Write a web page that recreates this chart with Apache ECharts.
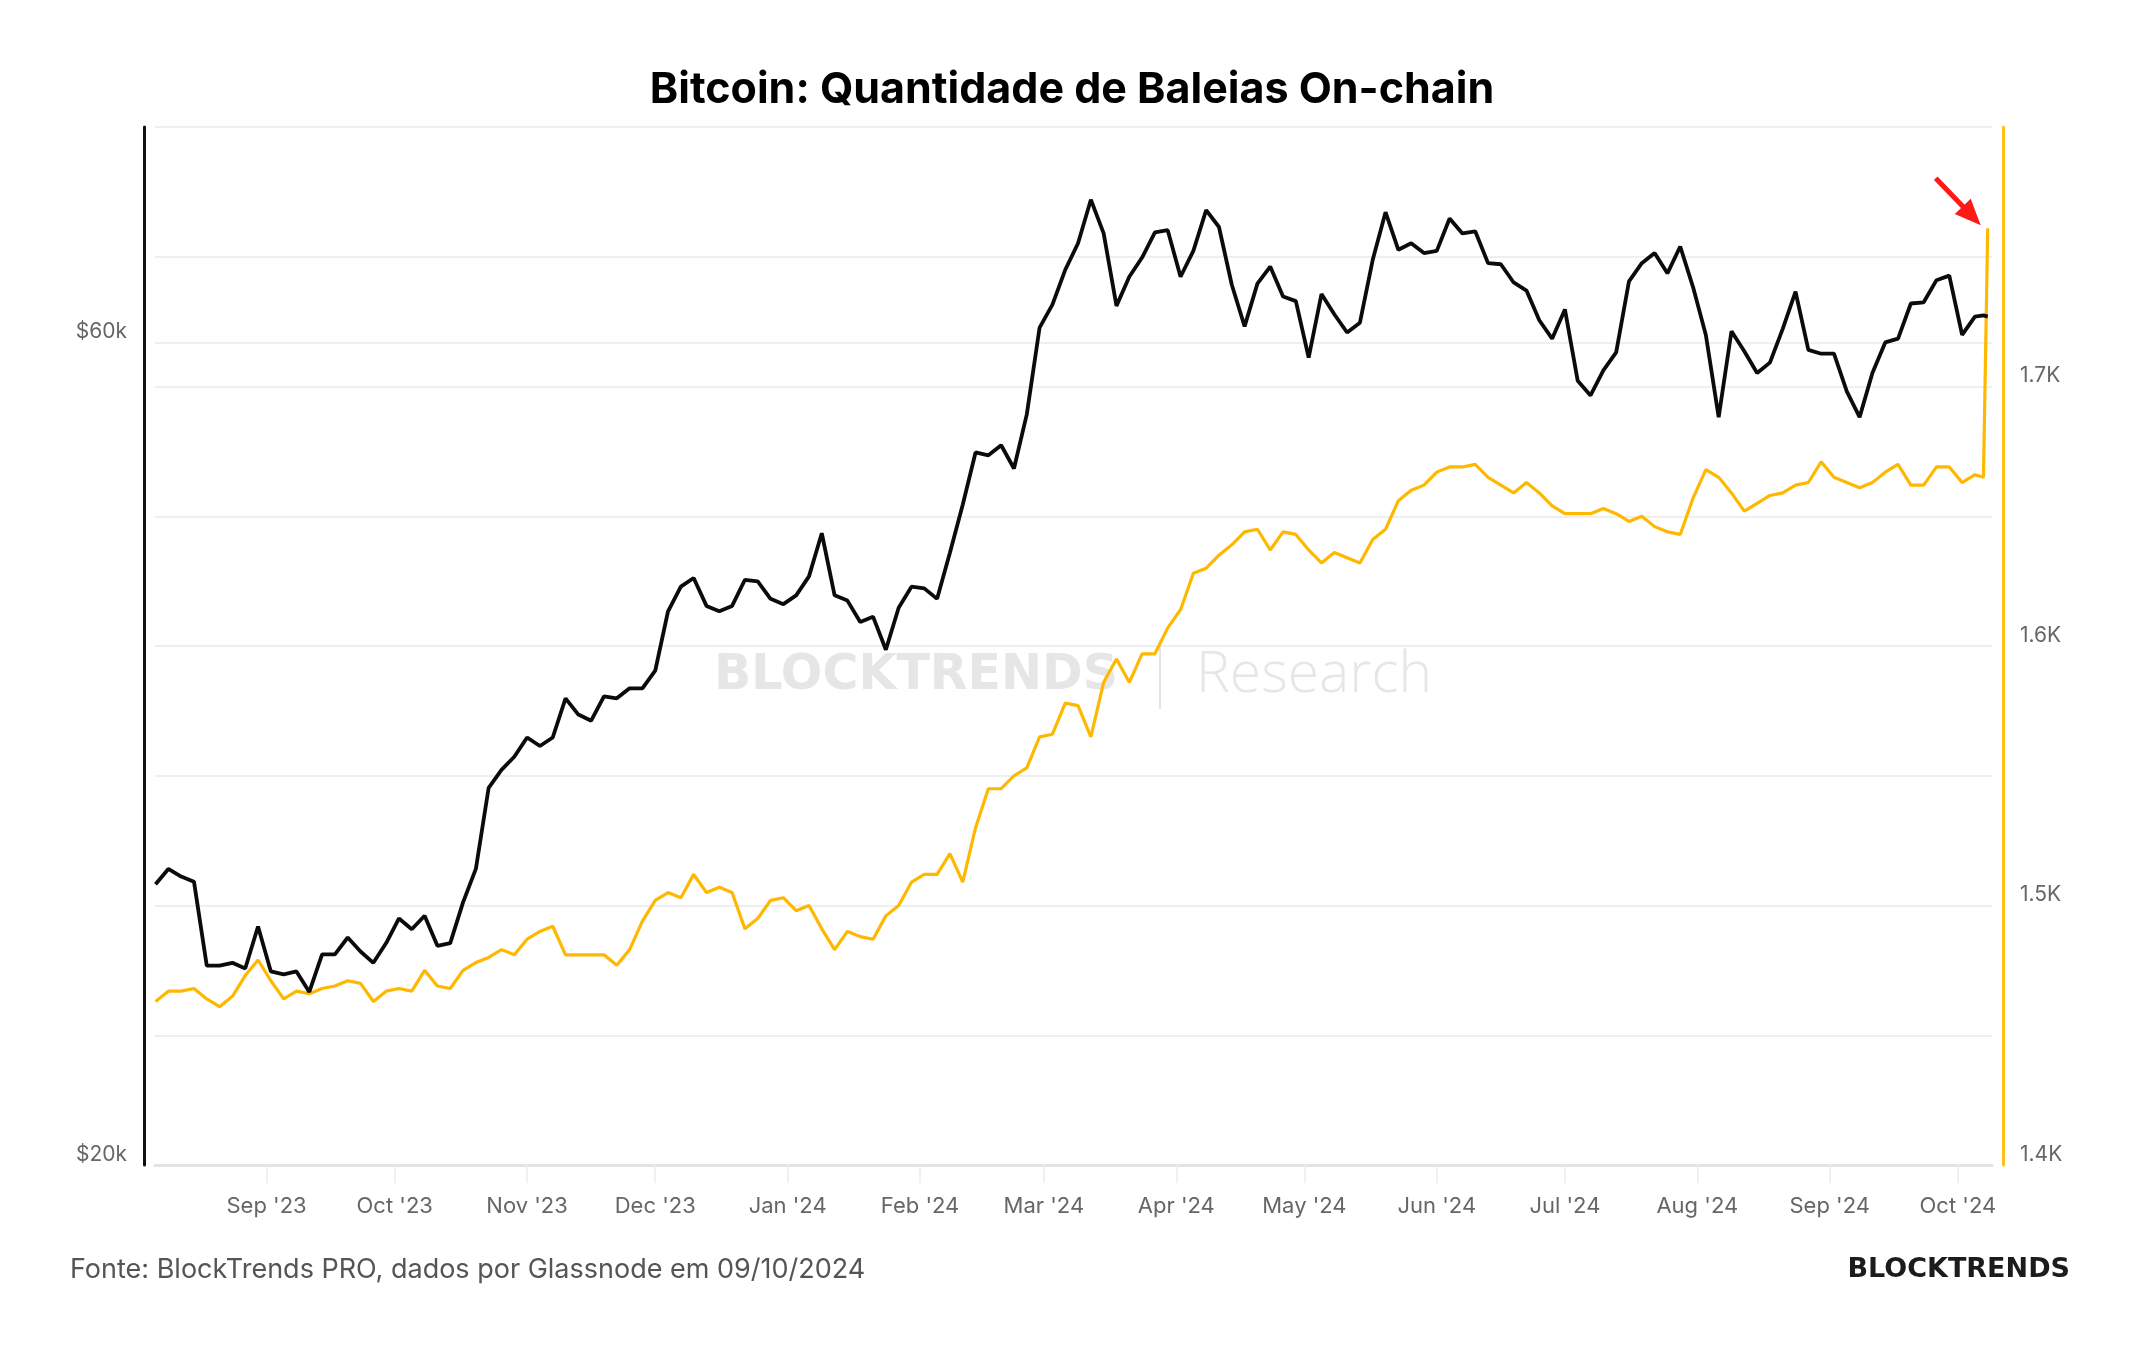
<!DOCTYPE html>
<html>
<head>
<meta charset="utf-8">
<title>Bitcoin: Quantidade de Baleias On-chain</title>
<script src="https://cdn.jsdelivr.net/npm/echarts@6/dist/echarts.min.js"></script>
<style>
  html, body { margin: 0; padding: 0; background: #fff; }
  #chart { width: 2144px; height: 1350px; }
</style>
</head>
<body>
<div id="chart"></div>
<script>
// sampled every 3 days from startDate, then the last two daily points
const startDate = '2023-08-06';
const stepDays = 3;

// BTC price, thousands of USD (left, log axis)
const btcPriceK = [
  29.1, 29.7, 29.4, 29.2, 26.1, 26.1, 26.2, 26.0, 27.5, 25.9,
  25.8, 25.9, 25.2, 26.5, 26.5, 27.1, 26.6, 26.2, 26.9, 27.8,
  27.4, 27.9, 26.8, 26.9, 28.4, 29.7, 33.1, 33.9, 34.5, 35.4,
  35.0, 35.4, 37.3, 36.5, 36.2, 37.4, 37.3, 37.8, 37.8, 38.7,
  41.9, 43.3, 43.8, 42.2, 41.9, 42.2, 43.7, 43.6, 42.6, 42.3,
  42.8, 43.9, 46.5, 42.8, 42.5, 41.3, 41.6, 39.8, 42.1, 43.3,
  43.2, 42.6, 45.3, 48.3, 51.8, 51.6, 52.3, 50.7, 54.5, 61.2,
  63.1, 66.1, 68.5, 72.6, 69.4, 63.0, 65.5, 67.2, 69.5, 69.7,
  65.5, 67.8, 71.6, 70.0, 64.8, 61.3, 64.9, 66.4, 63.8, 63.4,
  58.8, 64.0, 62.3, 60.8, 61.6, 67.0, 71.4, 67.9, 68.5, 67.6,
  67.8, 70.8, 69.4, 69.6, 66.7, 66.6, 65.0, 64.3, 61.8, 60.3,
  62.7, 57.0, 55.9, 57.8, 59.2, 65.1, 66.7, 67.6, 65.8, 68.2,
  64.6, 60.6, 54.3, 60.9, 59.3, 57.6, 58.4, 61.1, 64.2, 59.4,
  59.1, 59.1, 56.2, 54.3, 57.6, 60.0, 60.3, 63.2, 63.3, 65.2,
  65.6, 60.6, 62.1
];

// whale entities (right axis)
const whaleCount = [
  1463, 1467, 1467, 1468, 1464, 1461, 1465, 1473, 1479, 1471,
  1464, 1467, 1466, 1468, 1469, 1471, 1470, 1463, 1467, 1468,
  1467, 1475, 1469, 1468, 1475, 1478, 1480, 1483, 1481, 1487,
  1490, 1492, 1481, 1481, 1481, 1481, 1477, 1483, 1494, 1502,
  1505, 1503, 1512, 1505, 1507, 1505, 1491, 1495, 1502, 1503,
  1498, 1500, 1491, 1483, 1490, 1488, 1487, 1496, 1500, 1509,
  1512, 1512, 1520, 1509, 1530, 1545, 1545, 1550, 1553, 1565,
  1566, 1578, 1577, 1565, 1586, 1595, 1586, 1597, 1597, 1607,
  1614, 1628, 1630, 1635, 1639, 1644, 1645, 1637, 1644, 1643,
  1637, 1632, 1636, 1634, 1632, 1641, 1645, 1656, 1660, 1662,
  1667, 1669, 1669, 1670, 1665, 1662, 1659, 1663, 1659, 1654,
  1651, 1651, 1651, 1653, 1651, 1648, 1650, 1646, 1644, 1643,
  1657, 1668, 1665, 1659, 1652, 1655, 1658, 1659, 1662, 1663,
  1671, 1665, 1663, 1661, 1663, 1667, 1670, 1662, 1662, 1669,
  1669, 1663, 1666
];

const tailDates = ['2024-10-07', '2024-10-08'];
const tailPriceK = [62.2, 62.1];
const tailWhales = [1665, 1761];

const monthTicks = [
  '2023-09-01', '2023-10-01', '2023-11-01', '2023-12-01', '2024-01-01',
  '2024-02-01', '2024-03-01', '2024-04-01', '2024-05-01', '2024-06-01',
  '2024-07-01', '2024-08-01', '2024-09-01', '2024-10-01'
];
const monthNames = ['Jan', 'Feb', 'Mar', 'Apr', 'May', 'Jun', 'Jul', 'Aug', 'Sep', 'Oct', 'Nov', 'Dec'];
const priceLabels = [60, 20];

const DAY = 86400000;
const t0 = Date.parse(startDate);
const xMin = Date.UTC(2023, 7, 5, 21);
const xMax = Date.UTC(2024, 9, 9);
const monthTs = monthTicks.map(d => Date.parse(d));

function withDates(values, tail) {
  const pts = values.map((v, i) => [t0 + i * stepDays * DAY, v]);
  tailDates.forEach((d, i) => pts.push([Date.parse(d), tail[i]]));
  return pts;
}

const chart = echarts.init(document.getElementById('chart'));

chart.setOption({
  animation: false,
  backgroundColor: '#fff',
  title: {
    text: 'Bitcoin: Quantidade de Baleias On-chain',
    left: 'center',
    top: 64,
    textStyle: { fontFamily: 'Inter', fontWeight: 700, fontSize: 43, color: '#000' }
  },
  grid: { left: 155, right: 152, top: 127, bottom: 185 },
  // x is a timestamp (ms, UTC) on a plain value axis, ticks on month starts
  xAxis: {
    type: 'value',
    min: xMin,
    max: xMax,
    axisLine: { onZero: false, lineStyle: { color: '#e3e3e3', width: 3 } },
    axisTick: {
      show: true,
      customValues: monthTs,
      length: 18,
      lineStyle: { color: '#ebebeb', width: 1.5 }
    },
    axisLabel: {
      customValues: monthTs,
      formatter: function (v) {
        const d = new Date(v);
        return monthNames[d.getUTCMonth()] + " '" + String(d.getUTCFullYear()).slice(2);
      },
      color: '#666',
      fontFamily: 'Inter',
      fontSize: 22,
      margin: 30
    },
    splitLine: { show: false }
  },
  yAxis: [
    {
      type: 'log',
      min: 20,
      max: 80,
      position: 'left',
      offset: 11,
      axisLine: { show: true, onZero: false, lineStyle: { color: '#111', width: 3 } },
      axisTick: { show: false },
      axisLabel: { show: false },
      splitLine: { show: false }
    },
    {
      type: 'value',
      min: 1400,
      max: 1800,
      interval: 50,
      position: 'right',
      offset: 11,
      axisLine: { show: true, onZero: false, lineStyle: { color: '#ffc21a', width: 3 } },
      axisTick: { show: false },
      axisLabel: {
        formatter: v => (v % 100 === 0 && v < 1800 ? (v / 1000).toFixed(1) + 'K' : ''),
        color: '#666',
        fontFamily: 'Inter',
        fontSize: 21,
        margin: 17,
        verticalAlign: 'bottom'
      },
      splitLine: { show: true, lineStyle: { color: '#efefef', width: 2 } }
    }
  ],
  series: [
    {
      name: 'Baleias',
      type: 'line',
      yAxisIndex: 1,
      data: withDates(whaleCount, tailWhales),
      showSymbol: false,
      z: 3,
      lineStyle: { color: '#ffb800', width: 3.2 },
      itemStyle: { color: '#ffb800' }
    },
    {
      name: 'Preço BTC',
      type: 'line',
      yAxisIndex: 0,
      data: withDates(btcPriceK, tailPriceK),
      showSymbol: false,
      z: 4,
      lineStyle: { color: '#0b0b0b', width: 3.8 },
      itemStyle: { color: '#0b0b0b' },
      markLine: {
        silent: true,
        symbol: 'none',
        z: 1,
        lineStyle: { type: 'solid' },
        label: {
          show: true,
          position: 'start',
          distance: 28,
          formatter: p => '$' + p.value + 'k',
          color: '#666',
          fontFamily: 'Inter',
          fontSize: 21,
          verticalAlign: 'bottom'
        },
        data: priceLabels.map(v => ({
          yAxis: v,
          lineStyle: v === 20
            ? { color: 'rgba(0,0,0,0)', width: 1, type: 'solid' }
            : { color: '#efefef', width: 2, type: 'solid' }
        }))
      }
    }
  ],
  graphic: [
    {
      id: 'watermark',
      type: 'group',
      z: 0,
      silent: true,
      children: [
        { type: 'text', x: 714, y: 676, style: { text: 'BLOCKTRENDS', font: 'bold 49px "DejaVu Sans"', fill: '#e6e6e6', align: 'left', verticalAlign: 'middle' } },
        { type: 'line', shape: { x1: 1160, y1: 640, x2: 1160, y2: 709 }, style: { stroke: '#e3e3e3', lineWidth: 2 } },
        { type: 'text', x: 1196, y: 676, style: { text: 'Research', font: '300 57px "Open Sans"', fill: '#e6e6e6', align: 'left', verticalAlign: 'middle' } }
      ]
    },
    { id: 'source', type: 'text', x: 70, y: 1270, style: { text: 'Fonte: BlockTrends PRO, dados por Glassnode em 09/10/2024', font: '27px Inter', fill: '#555', align: 'left', verticalAlign: 'middle' } },
    { id: 'logo', type: 'text', x: 2070, y: 1270, style: { text: 'BLOCKTRENDS', font: 'bold 27px "DejaVu Sans"', fill: '#1c1c1f', align: 'right', verticalAlign: 'middle' } }
  ]
});

// red arrow pointing at the last whale value
const lastPt = chart.convertToPixel({ xAxisIndex: 0, yAxisIndex: 1 }, [Date.parse(tailDates[1]), tailWhales[1]]);
const tip = [lastPt[0] - 7, lastPt[1] - 3];
const dir = [0.692, 0.723];
const nrm = [-dir[1], dir[0]];
const base = [tip[0] - 26 * dir[0], tip[1] - 26 * dir[1]];
chart.setOption({
  graphic: [
    {
      id: 'arrowShaft',
      type: 'line',
      z: 10,
      shape: { x1: tip[0] - 65 * dir[0], y1: tip[1] - 65 * dir[1], x2: base[0] + 2 * dir[0], y2: base[1] + 2 * dir[1] },
      style: { stroke: '#ff1a1a', lineWidth: 5 }
    },
    {
      id: 'arrowHead',
      type: 'polygon',
      z: 10,
      shape: { points: [tip, [base[0] + 11 * nrm[0], base[1] + 11 * nrm[1]], [base[0] - 11 * nrm[0], base[1] - 11 * nrm[1]]] },
      style: { fill: '#ff1a1a' }
    }
  ]
});
</script>
</body>
</html>
